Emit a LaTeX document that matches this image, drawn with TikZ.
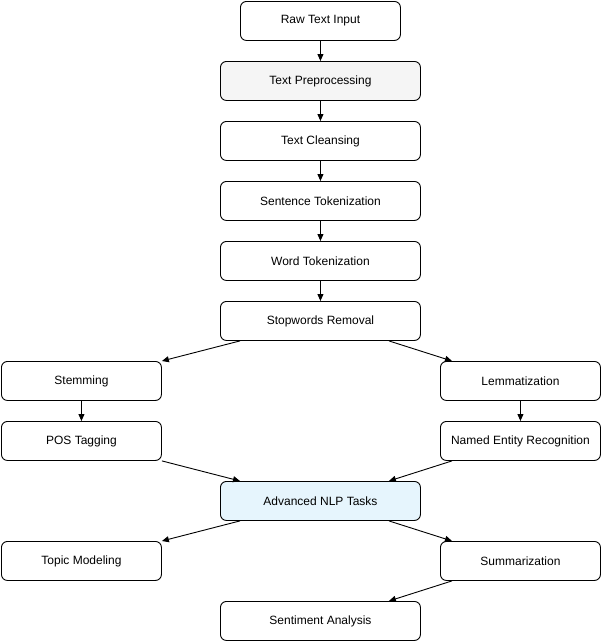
\documentclass[tikz,border=0pt]{standalone}
\usepackage{fontspec}
\setmainfont{Liberation Sans}
\usetikzlibrary{arrows.meta}
\begin{document}
\begin{tikzpicture}[x=1pt,y=-1pt,
  box/.style={draw=black,line width=0.9pt,rounded corners=6pt,minimum height=39pt,inner sep=0pt,font=\fontsize{12}{14}\selectfont,anchor=north west},
  w2/.style={box,minimum width=200pt},
  w1/.style={box,minimum width=160pt},
  arr/.style={line width=0.9pt,-{Triangle[length=7pt,width=6pt]}}]
\useasboundingbox (0,0) rectangle (601,641);
\node[w1] (raw) at (240,1) {Raw Text Input};
\node[w2,fill={rgb,255:red,245;green,245;blue,245}] (pre) at (220,61) {Text Preprocessing};
\node[w2] (clean) at (220,121) {Text Cleansing};
\node[w2] (sent) at (220,181) {Sentence Tokenization};
\node[w2] (word) at (220,241) {Word Tokenization};
\node[w2] (stop) at (220,301) {Stopwords Removal};
\node[w1] (stem) at (1,361) {Stemming};
\node[w1] (lem) at (440,361) {Lemmatization};
\node[w1] (pos) at (1,421) {POS Tagging};
\node[w1] (ner) at (440,421) {Named Entity Recognition};
\node[w2,fill={rgb,255:red,230;green,245;blue,253}] (adv) at (220,481) {Advanced NLP Tasks};
\node[w1] (topic) at (1,541) {Topic Modeling};
\node[w1] (sum) at (440,541) {Summarization};
\node[w2] (senti) at (220,601) {Sentiment Analysis};
\draw[arr] (raw) -- (pre);
\draw[arr] (pre) -- (clean);
\draw[arr] (clean) -- (sent);
\draw[arr] (sent) -- (word);
\draw[arr] (word) -- (stop);
\draw[arr] ([xshift=20pt]stop.south west) -- (stem.north east);
\draw[arr] ([xshift=-32pt]stop.south east) -- ([xshift=12pt]lem.north west);
\draw[arr] (stem) -- (pos);
\draw[arr] (lem) -- (ner);
\draw[arr] (pos.south east) -- ([xshift=20pt]adv.north west);
\draw[arr] ([xshift=12pt]ner.south west) -- ([xshift=-32pt]adv.north east);
\draw[arr] ([xshift=20pt]adv.south west) -- (topic.north east);
\draw[arr] ([xshift=-32pt]adv.south east) -- ([xshift=12pt]sum.north west);
\draw[arr] ([xshift=12pt]sum.south west) -- ([xshift=-32pt]senti.north east);
\end{tikzpicture}
\end{document}
